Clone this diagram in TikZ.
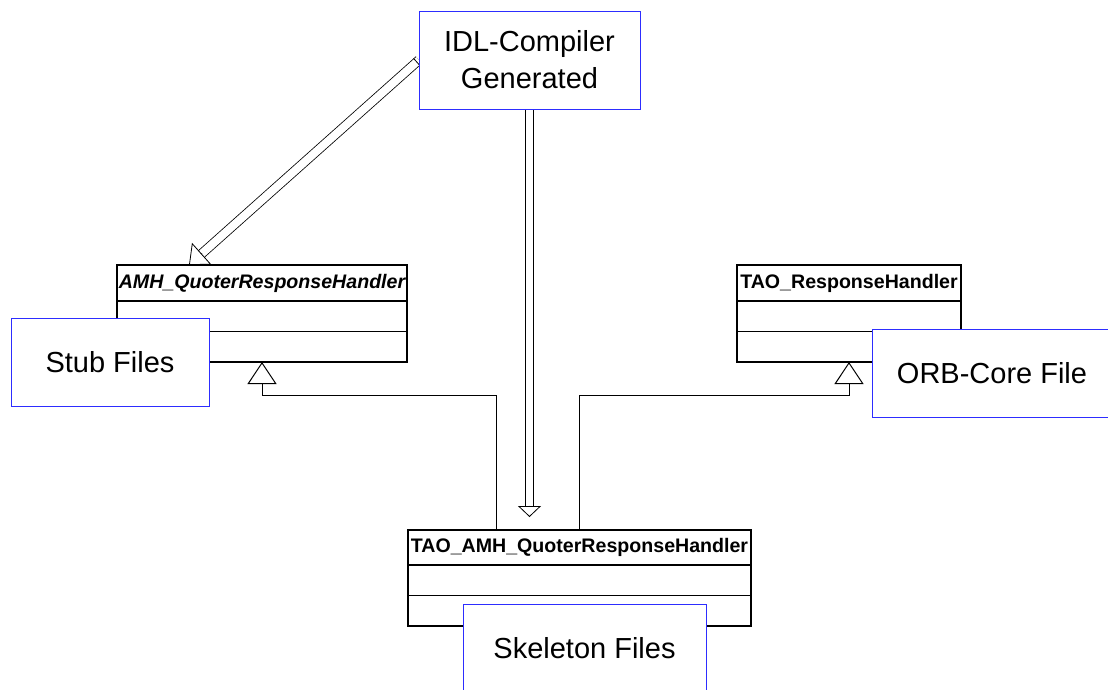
\documentclass[tikz,border=0pt]{standalone}
\usepackage{fontspec}
\setmainfont{Liberation Sans}
\usetikzlibrary{arrows.meta,calc,positioning}
\definecolor{boxblue}{RGB}{45,45,255}
\pgfdeclarelayer{back}
\pgfsetlayers{back,main}
\tikzset{
  clshead/.style={draw=black, line width=1.5pt, fill=white, rectangle, inner sep=0pt, outer sep=0pt,
    minimum height=36pt, font=\fontsize{19.6}{22}\selectfont\bfseries},
  clsbody/.style={draw=black, line width=1.5pt, fill=white, rectangle, inner sep=0pt, outer sep=0pt,
    minimum height=30.5pt},
  filebox/.style={draw=boxblue, line width=1pt, fill=white, rectangle, inner sep=0pt, outer sep=0pt,
    align=center, font=\fontsize{29}{37}\selectfont},
  inherit/.style={draw=black, line width=1pt, -{Triangle[open, length=22pt, width=29pt]}},
  shaft/.style={draw=black, line width=0.8pt, double=white, double distance=6.5pt},
  hhead/.style={draw=black, line width=0.8pt, fill=white, -{Triangle[open, length=11pt, width=23pt]}},
  bighead/.style={draw=black, line width=0.8pt, -{Triangle[open, length=17pt, width=29pt]}}
}
\begin{document}
\begin{tikzpicture}[x=1pt, y=-1pt]
\useasboundingbox (0,0) rectangle (1108,689);
\clip (0,0) rectangle (1108,689);

% classes
\node[clshead, minimum width=290pt, font=\fontsize{19.6}{22}\selectfont\bfseries\itshape] (amh) at (262,283) {AMH\_QuoterResponseHandler};
\node[clsbody, minimum width=290pt, below=0pt of amh] (amh2) {};
\node[clsbody, minimum width=290pt, below=0pt of amh2] (amh3) {};

\node[clshead, minimum width=224pt] (trh) at (849,283) {TAO\_ResponseHandler};
\node[clsbody, minimum width=224pt, below=0pt of trh] (trh2) {};
\node[clsbody, minimum width=224pt, below=0pt of trh2] (trh3) {};

\node[clshead, minimum width=343pt, minimum height=35pt] (tao) at (579.5,547.5) {TAO\_AMH\_QuoterResponseHandler};
\node[clsbody, minimum width=343pt, below=0pt of tao] (tao2) {};
\node[clsbody, minimum width=343pt, below=0pt of tao2] (tao3) {};

% inheritance
\draw[inherit] ([xshift=-83.5pt]tao.north) -- ++(0,-135) -| (amh3.south);
\draw[inherit] (tao.north) -- ++(0,-135) -| (trh3.south);

% file boxes
\node[filebox, minimum width=221pt, minimum height=98pt] (idl) at (529.5,60) {IDL-Compiler\\Generated};
\node[filebox, minimum width=198pt, minimum height=88pt] (stub) at (110,362) {Stub Files};
\node[filebox, minimum width=240pt, minimum height=88pt] (orb) at (992,373) {ORB-Core File};
\node[filebox, minimum width=243pt, minimum height=88pt] (skel) at (584.5,648) {Skeleton Files};

% hollow arrows from IDL (under the boxes)
\begin{pgfonlayer}{back}
\coordinate (vt) at ($(idl.south |- tao.north)+(0,-13)$);
\draw[shaft] (idl.south) -- ($(vt)+(0,-10.5)$);
\draw[hhead] ($(vt)+(0,-11.5)$) -- (vt);

\coordinate (dt) at ([xshift=72pt]amh.north west);
\coordinate (ds) at ($(idl.west)!3pt!(dt)$);
\draw[shaft, double distance=8pt] (idl.west) -- ($(dt)!16.5pt!(idl.west)$);
\draw[black, line width=0.8pt] ($(ds)!4.8pt!90:(dt)$) -- ($(ds)!4.8pt!-90:(dt)$);
\draw[bighead] ($(dt)!17.5pt!(idl.west)$) -- (dt);
\end{pgfonlayer}
\end{tikzpicture}
\end{document}
